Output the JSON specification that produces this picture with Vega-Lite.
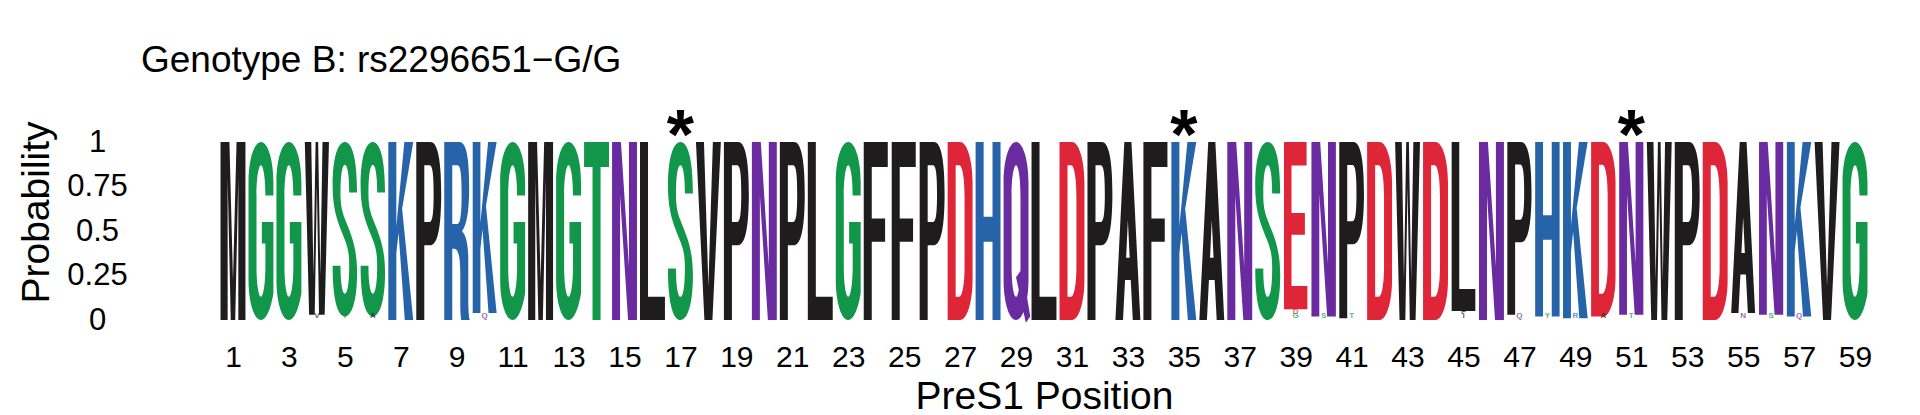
{
  "$schema": "https://vega.github.io/schema/vega-lite/v6.json",
  "description": "Sequence logo of PreS1 positions 1-59, genotype B, rs2296651-G/G.",
  "width": 1650,
  "height": 178,
  "autosize": "none",
  "padding": {"left": 219, "top": 142, "right": 51, "bottom": 95},
  "background": "white",
  "title": {
    "text": "Genotype B: rs2296651−G/G",
    "anchor": "start",
    "frame": "group",
    "font": "Liberation Sans",
    "fontSize": 37,
    "fontWeight": "normal",
    "color": "black",
    "baseline": "alphabetic",
    "offset": 0,
    "dx": -78,
    "dy": 6
  },
  "datasets": {
    "logo": [
      {"pos": 1, "aa": "M", "p": 1},
      {"pos": 2, "aa": "G", "p": 1},
      {"pos": 3, "aa": "G", "p": 1},
      {"pos": 4, "aa": "W", "p": 0.97},
      {"pos": 4, "aa": "V", "p": 0.03},
      {"pos": 5, "aa": "S", "p": 0.98},
      {"pos": 5, "aa": "T", "p": 0.02},
      {"pos": 6, "aa": "S", "p": 0.98},
      {"pos": 6, "aa": "A", "p": 0.02},
      {"pos": 7, "aa": "K", "p": 1},
      {"pos": 8, "aa": "P", "p": 1},
      {"pos": 9, "aa": "R", "p": 1},
      {"pos": 10, "aa": "K", "p": 0.96},
      {"pos": 10, "aa": "Q", "p": 0.04},
      {"pos": 11, "aa": "G", "p": 1},
      {"pos": 12, "aa": "M", "p": 1},
      {"pos": 13, "aa": "G", "p": 1},
      {"pos": 14, "aa": "T", "p": 1},
      {"pos": 15, "aa": "N", "p": 1},
      {"pos": 16, "aa": "L", "p": 1},
      {"pos": 17, "aa": "S", "p": 1},
      {"pos": 18, "aa": "V", "p": 1},
      {"pos": 19, "aa": "P", "p": 1},
      {"pos": 20, "aa": "N", "p": 1},
      {"pos": 21, "aa": "P", "p": 1},
      {"pos": 22, "aa": "L", "p": 1},
      {"pos": 23, "aa": "G", "p": 1},
      {"pos": 24, "aa": "F", "p": 1},
      {"pos": 25, "aa": "F", "p": 1},
      {"pos": 26, "aa": "P", "p": 1},
      {"pos": 27, "aa": "D", "p": 1},
      {"pos": 28, "aa": "H", "p": 1},
      {"pos": 29, "aa": "Q", "p": 1},
      {"pos": 30, "aa": "L", "p": 1},
      {"pos": 31, "aa": "D", "p": 1},
      {"pos": 32, "aa": "P", "p": 1},
      {"pos": 33, "aa": "A", "p": 1},
      {"pos": 34, "aa": "F", "p": 1},
      {"pos": 35, "aa": "K", "p": 1},
      {"pos": 36, "aa": "A", "p": 1},
      {"pos": 37, "aa": "N", "p": 1},
      {"pos": 38, "aa": "S", "p": 1},
      {"pos": 39, "aa": "E", "p": 0.94},
      {"pos": 39, "aa": "D", "p": 0.04},
      {"pos": 39, "aa": "G", "p": 0.02},
      {"pos": 40, "aa": "N", "p": 0.98},
      {"pos": 40, "aa": "S", "p": 0.02},
      {"pos": 41, "aa": "P", "p": 0.99},
      {"pos": 41, "aa": "T", "p": 0.01},
      {"pos": 42, "aa": "D", "p": 1},
      {"pos": 43, "aa": "W", "p": 1},
      {"pos": 44, "aa": "D", "p": 1},
      {"pos": 45, "aa": "L", "p": 0.95},
      {"pos": 45, "aa": "F", "p": 0.03},
      {"pos": 45, "aa": "I", "p": 0.02},
      {"pos": 46, "aa": "N", "p": 1},
      {"pos": 47, "aa": "P", "p": 0.97},
      {"pos": 47, "aa": "Q", "p": 0.03},
      {"pos": 48, "aa": "H", "p": 0.98},
      {"pos": 48, "aa": "Y", "p": 0.02},
      {"pos": 49, "aa": "K", "p": 0.99},
      {"pos": 49, "aa": "R", "p": 0.01},
      {"pos": 50, "aa": "D", "p": 0.98},
      {"pos": 50, "aa": "A", "p": 0.02},
      {"pos": 51, "aa": "N", "p": 0.97},
      {"pos": 51, "aa": "T", "p": 0.03},
      {"pos": 52, "aa": "W", "p": 1},
      {"pos": 53, "aa": "P", "p": 1},
      {"pos": 54, "aa": "D", "p": 1},
      {"pos": 55, "aa": "A", "p": 0.96},
      {"pos": 55, "aa": "N", "p": 0.04},
      {"pos": 56, "aa": "N", "p": 0.97},
      {"pos": 56, "aa": "S", "p": 0.03},
      {"pos": 57, "aa": "K", "p": 0.98},
      {"pos": 57, "aa": "Q", "p": 0.02},
      {"pos": 58, "aa": "V", "p": 1},
      {"pos": 59, "aa": "G", "p": 1}
    ],
    "stars": [
      {"pos": 17},
      {"pos": 35},
      {"pos": 51}
    ]
  },
  "layer": [
    {
      "data": {"name": "logo"},
      "transform": [
        {"stack": "p", "groupby": ["pos"], "sort": [{"field": "p", "order": "ascending"}], "as": ["y0", "y1"]},
        {"filter": "datum.p >= 0.5"}
      ],
      "mark": {"type": "point", "filled": true, "opacity": 1, "strokeWidth": 0},
      "encoding": {
        "x": {
          "field": "pos",
          "type": "quantitative",
          "title": "PreS1 Position",
          "scale": {"domain": [0.5, 59.5], "nice": false, "zero": false},
          "axis": {
            "values": [1, 3, 5, 7, 9, 11, 13, 15, 17, 19, 21, 23, 25, 27, 29, 31, 33, 35, 37, 39, 41, 43, 45, 47, 49, 51, 53, 55, 57, 59],
            "ticks": false,
            "tickSize": 0,
            "domain": false,
            "grid": false,
            "labelFlush": false,
            "labelFontSize": 30,
            "labelPadding": 22,
            "titleFontSize": 39,
            "titleBaseline": "alphabetic",
            "titleY": 88
          }
        },
        "y": {
          "field": "y0",
          "type": "quantitative",
          "title": "Probability",
          "stack": null,
          "scale": {"domain": [0, 1], "nice": false},
          "axis": {
            "values": [0, 0.25, 0.5, 0.75, 1],
            "labelExpr": "'' + datum.value",
            "ticks": false,
            "tickSize": 0,
            "domain": false,
            "grid": false,
            "labelFlush": false,
            "labelAlign": "center",
            "labelPadding": 122,
            "labelFontSize": 31,
            "titleFontSize": 39,
            "titleBaseline": "middle",
            "titleAlign": "center",
            "titleX": -183,
            "titleY": 70
          }
        },
        "shape": {
          "field": "aa",
          "type": "nominal",
          "legend": null,
          "scale": {
            "domain": ["A", "D", "E", "F", "G", "H", "K", "L", "M", "N", "P", "Q", "R", "S", "T", "V", "W"],
            "range": [
              "M -4 -200 L 4 -200 L 14 0 L 5.5 0 L 3.2 -45 L -3.2 -45 L -5.5 0 L -14 0 Z M 0 -112 L -2 -70 L 2 -70 Z",
              "M -14 0 L -14 -200 L 0 -200 C 7.73 -200 14 -179.85 14 -155 L 14 -45 C 14 -20.15 7.73 0 0 0 Z M -5 -174 L -5 -26 L -1 -26 C 2.5 -26 5 -41 5 -60 L 5 -140 C 5 -159 2.5 -174 -1 -174 Z",
              "M -14 -200 L 13 -200 L 13 -172 L -5 -172 L -5 -115 L 11 -115 L 11 -89 L -5 -89 L -5 -28 L 14 -28 L 14 0 L -14 0 Z",
              "M -14 -200 L 13 -200 L 13 -172 L -5 -172 L -5 -114 L 10 -114 L 10 -88 L -5 -88 L -5 0 L -14 0 Z",
              "M 14 -140 L 14 -155 C 14 -179.85 7.73 -200 0 -200 C -7.73 -200 -14 -179.85 -14 -155 L -14 -45 C -14 -20.15 -7.73 0 0 0 C 6 0 11 -12 14 -30 L 14 -110 L 1 -110 L 1 -86 L 5 -86 L 5 -60 C 5 -41.22 2.76 -26 0 -26 C -2.76 -26 -5 -41.22 -5 -60 L -5 -140 C -5 -158.78 -2.76 -174 0 -174 C 2.76 -174 5 -158.78 5 -140 Z",
              "M -14 -200 L -5 -200 L -5 -116 L 5 -116 L 5 -200 L 14 -200 L 14 0 L 5 0 L 5 -88 L -5 -88 L -5 0 L -14 0 Z",
              "M -14 -200 L -5 -200 L -5 -105 L 4 -200 L 14 -200 L 1.5 -125 L 14 0 L 4.5 0 L -2.5 -98 L -5 -75 L -5 0 L -14 0 Z",
              "M -14 -200 L -5 -200 L -5 -26 L 14 -26 L 14 0 L -14 0 Z",
              "M -14 -200 L -4 -200 L 0 -45 L 4 -200 L 14 -200 L 14 0 L 6 0 L 6 -160 L 2.5 0 L -2.5 0 L -6 -160 L -6 0 L -14 0 Z",
              "M -14 -200 L -4 -200 L 5 -60 L 5 -200 L 14 -200 L 14 0 L 4 0 L -5 -140 L -5 0 L -14 0 Z",
              "M -14 0 L -14 -200 L 2 -200 C 10 -200 14 -180 14 -142 C 14 -104 10 -84 2 -84 L -5 -84 L -5 0 Z M -5 -174 L -5 -110 L 1 -110 C 4.5 -110 5.5 -122 5.5 -142 C 5.5 -162 4.5 -174 1 -174 Z",
              "M 0 -200 C 7.73 -200 14 -179.85 14 -155 L 14 -45 C 14 -20.15 7.73 0 0 0 C -7.73 0 -14 -20.15 -14 -45 L -14 -155 C -14 -179.85 -7.73 -200 0 -200 Z M 0 -174 C -2.76 -174 -5 -158.78 -5 -140 L -5 -60 C -5 -41.22 -2.76 -26 0 -26 C 2.76 -26 5 -41.22 5 -60 L 5 -140 C 5 -158.78 2.76 -174 0 -174 Z M 0 -48 L 7 -58 L 16 -4 L 11 3 Z",
              "M -14 0 L -14 -200 L 3 -200 C 11 -200 14 -182 14 -148 C 14 -122 11 -106 6 -100 C 11 -94 13 -84 13 -66 L 13 -22 C 13 -12 13.5 -5 14.5 0 L 5 0 C 4.3 -5 4 -12 4 -24 L 4 -54 C 4 -70 2 -80 -3 -80 L -5 -80 L -5 0 Z M -5 -174 L -5 -108 L 1 -108 C 4.5 -108 5.5 -122 5.5 -141 C 5.5 -162 4.5 -174 1 -174 Z",
              "M 14 -142 C 14 -182 8 -200 0 -200 C -8 -200 -14 -182 -14 -150 C -14 -118 -6 -104 0 -88 C 4 -78 5 -70 5 -58 C 5 -38 3 -26 0 -26 C -3 -26 -5 -40 -5 -58 L -14 -58 C -14 -18 -8 0 0 0 C 8 0 14 -18 14 -50 C 14 -82 6 -96 0 -112 C -4 -122 -5 -130 -5 -142 C -5 -162 -3 -174 0 -174 C 3 -174 5 -162 5 -142 Z",
              "M -14 -200 L 14 -200 L 14 -172 L 4.5 -172 L 4.5 0 L -4.5 0 L -4.5 -172 L -14 -172 Z",
              "M -14 -200 L -5 -200 L 0 -38 L 5 -200 L 14 -200 L 4.5 0 L -4.5 0 Z",
              "M -14 -200 L -6.5 -200 L -4 -45 L -1.5 -200 L 1.5 -200 L 4 -45 L 6.5 -200 L 14 -200 L 9 0 L 2.5 0 L 0 -150 L -2.5 0 L -9 0 Z"
            ]
          }
        },
        "size": {
          "field": "p",
          "type": "quantitative",
          "legend": null,
          "scale": {"type": "pow", "exponent": 2, "domain": [0, 1], "range": [0, 3.1684]}
        },
        "color": {
          "field": "aa",
          "type": "nominal",
          "legend": null,
          "scale": {
            "domain": ["A", "C", "D", "E", "F", "G", "H", "I", "K", "L", "M", "N", "P", "Q", "R", "S", "T", "V", "W", "Y"],
            "range": ["#1f1c1d", "#11964a", "#df2639", "#df2639", "#1f1c1d", "#11964a", "#2763a9", "#1f1c1d", "#2763a9", "#1f1c1d", "#1f1c1d", "#6a2ba0", "#1f1c1d", "#6a2ba0", "#2763a9", "#11964a", "#11964a", "#1f1c1d", "#1f1c1d", "#11964a"]
          }
        }
      }
    },
    {
      "data": {"name": "logo"},
      "transform": [
        {"stack": "p", "groupby": ["pos"], "sort": [{"field": "p", "order": "ascending"}], "as": ["y0", "y1"]},
        {"filter": "datum.p < 0.5"}
      ],
      "mark": {"type": "text", "font": "Liberation Sans", "fontSize": 8, "fontWeight": "bold", "baseline": "bottom", "opacity": 0.7},
      "encoding": {
        "x": {"field": "pos", "type": "quantitative", "title": "PreS1 Position"},
        "y": {"field": "y0", "type": "quantitative", "title": "Probability", "stack": null},
        "text": {"field": "aa"},
        "color": {"field": "aa", "type": "nominal", "legend": null}
      }
    },
    {
      "data": {"name": "stars"},
      "mark": {"type": "text", "text": "*", "font": "Liberation Sans", "fontSize": 70, "fontWeight": "bold", "baseline": "alphabetic", "dy": 17, "color": "black"},
      "encoding": {
        "x": {"field": "pos", "type": "quantitative", "title": "PreS1 Position"},
        "y": {"datum": 1}
      }
    }
  ],
  "config": {
    "view": {"stroke": null},
    "axis": {
      "labelFont": "Liberation Sans",
      "titleFont": "Liberation Sans",
      "labelColor": "black",
      "titleColor": "black",
      "titleFontWeight": "normal"
    }
  }
}
